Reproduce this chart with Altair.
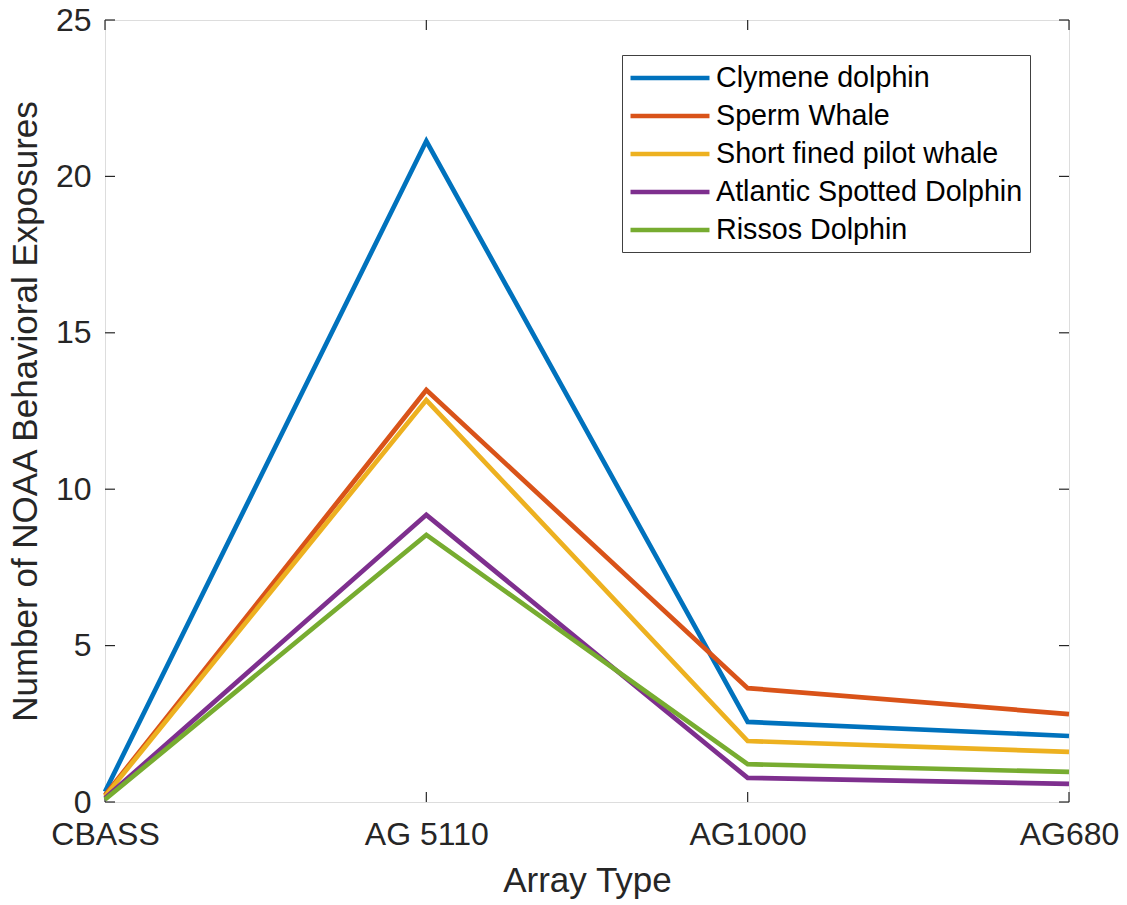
import altair as alt
import pandas as pd

categories = ["CBASS", "AG 5110", "AG1000", "AG680"]
series_names = ["Clymene dolphin", "Sperm Whale", "Short fined pilot whale",
                "Atlantic Spotted Dolphin", "Rissos Dolphin"]
clymene = [0.33, 21.13, 2.56, 2.11]
sperm = [0.22, 13.17, 3.64, 2.81]
pilot = [0.18, 12.85, 1.95, 1.60]
atlantic = [0.12, 9.18, 0.77, 0.58]
rissos = [0.08, 8.54, 1.21, 0.96]
colors = ["#0072BD", "#D95319", "#EDB120", "#7E2F8E", "#77AC30"]
y_ticks = [0, 5, 10, 15, 20, 25]

rows = []
for name, vals in zip(series_names, [clymene, sperm, pilot, atlantic, rissos]):
    for c, v in zip(categories, vals):
        rows.append({"Array": c, "Species": name, "Value": v})
df = pd.DataFrame(rows)

FONT = "Liberation Sans"
AX = "#262626"
W, H = 964, 782

xscale = alt.Scale(type="point", domain=categories, padding=0)
yscale = alt.Scale(domain=[0, 25], nice=False, zero=True)

lines = alt.Chart(df).mark_line(strokeWidth=4.7, strokeJoin="miter").encode(
    x=alt.X("Array:N", scale=xscale, sort=categories,
            axis=alt.Axis(title="Array Type", labelAngle=0, ticks=False,
                          labelAlign="center", labelBaseline="top",
                          labelFontSize=32, titleFontSize=35, labelPadding=17,
                          titlePadding=13, domain=False, labelColor=AX,
                          titleColor=AX, labelFont=FONT, titleFont=FONT,
                          titleFontWeight="normal")),
    y=alt.Y("Value:Q", scale=yscale,
            axis=alt.Axis(title="Number of NOAA Behavioral Exposures",
                          values=y_ticks, ticks=False, grid=False, domain=False,
                          labelFontSize=32, titleFontSize=35, labelPadding=14,
                          titlePadding=12, labelColor=AX, titleColor=AX,
                          labelFont=FONT, titleFont=FONT,
                          titleFontWeight="normal")),
    color=alt.Color("Species:N", sort=series_names,
                    scale=alt.Scale(domain=series_names, range=colors),
                    legend=alt.Legend(title=None, orient="none", legendX=517,
                                      legendY=35, symbolType="M-3,0H3",
                                      symbolStrokeWidth=4.7, symbolSize=693,
                                      symbolOffset=25,
                                      symbolFillColor="transparent",
                                      labelFontSize=28.7, labelFont=FONT,
                                      labelColor="#000000", strokeColor="#404040",
                                      fillColor="white", padding=7,
                                      rowPadding=7, labelOffset=30,
                                      labelLimit=500)),
    detail="Species:N",
)

ytick_df = pd.DataFrame({"v": y_ticks})
xtick_df = pd.DataFrame({"c": categories})

lt = alt.Chart(ytick_df).mark_rule(color=AX, strokeWidth=1.2).encode(
    y=alt.Y("v:Q", scale=yscale), x=alt.value(0), x2=alt.value(10))
rt = alt.Chart(ytick_df).mark_rule(color=AX, strokeWidth=1.2).encode(
    y=alt.Y("v:Q", scale=yscale), x=alt.value(W - 10), x2=alt.value(W))
bt = alt.Chart(xtick_df).mark_rule(color=AX, strokeWidth=1.2).encode(
    x=alt.X("c:N", scale=xscale, sort=categories), y=alt.value(H - 10), y2=alt.value(H))
tt = alt.Chart(xtick_df).mark_rule(color=AX, strokeWidth=1.2).encode(
    x=alt.X("c:N", scale=xscale, sort=categories), y=alt.value(0), y2=alt.value(10))

chart = alt.layer(lt, rt, bt, tt, lines).properties(
    width=W, height=H,
    padding={"left": 8, "top": 4, "right": 5, "bottom": 5},
).configure_view(stroke=AX, strokeWidth=1.5).configure(background="white")

chart.save("out.html", embed_options={"renderer": "svg", "actions": False})
